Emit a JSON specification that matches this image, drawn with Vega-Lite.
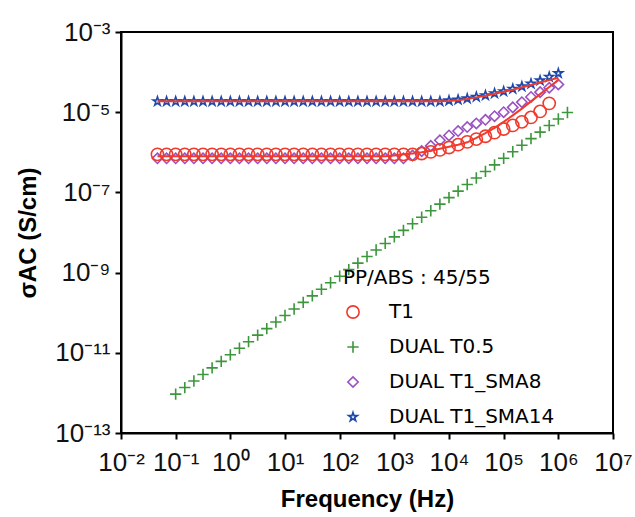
{
  "$schema": "https://vega.github.io/schema/vega-lite/v6.json",
  "width": 492,
  "height": 401,
  "autosize": {"type": "none"},
  "padding": {"left": 121, "top": 32, "right": 22, "bottom": 84},
  "background": "white",
  "config": {"view": {"stroke": "black", "strokeWidth": 2}, "font": "Liberation Sans"},
  "datasets": {
    "pts": [
      {"s": "DUAL T1_SMA8", "f": 0.04642, "y": 7.079e-7},
      {"s": "DUAL T1_SMA8", "f": 0.06813, "y": 7.079e-7},
      {"s": "DUAL T1_SMA8", "f": 0.1, "y": 7.079e-7},
      {"s": "DUAL T1_SMA8", "f": 0.1468, "y": 7.079e-7},
      {"s": "DUAL T1_SMA8", "f": 0.2154, "y": 7.079e-7},
      {"s": "DUAL T1_SMA8", "f": 0.3162, "y": 7.079e-7},
      {"s": "DUAL T1_SMA8", "f": 0.4642, "y": 7.079e-7},
      {"s": "DUAL T1_SMA8", "f": 0.6813, "y": 7.079e-7},
      {"s": "DUAL T1_SMA8", "f": 1, "y": 7.079e-7},
      {"s": "DUAL T1_SMA8", "f": 1.468, "y": 7.079e-7},
      {"s": "DUAL T1_SMA8", "f": 2.154, "y": 7.079e-7},
      {"s": "DUAL T1_SMA8", "f": 3.162, "y": 7.079e-7},
      {"s": "DUAL T1_SMA8", "f": 4.642, "y": 7.079e-7},
      {"s": "DUAL T1_SMA8", "f": 6.813, "y": 7.079e-7},
      {"s": "DUAL T1_SMA8", "f": 10, "y": 7.079e-7},
      {"s": "DUAL T1_SMA8", "f": 14.68, "y": 7.079e-7},
      {"s": "DUAL T1_SMA8", "f": 21.54, "y": 7.079e-7},
      {"s": "DUAL T1_SMA8", "f": 31.62, "y": 7.079e-7},
      {"s": "DUAL T1_SMA8", "f": 46.42, "y": 7.079e-7},
      {"s": "DUAL T1_SMA8", "f": 68.13, "y": 7.079e-7},
      {"s": "DUAL T1_SMA8", "f": 100, "y": 7.079e-7},
      {"s": "DUAL T1_SMA8", "f": 146.8, "y": 7.079e-7},
      {"s": "DUAL T1_SMA8", "f": 215.4, "y": 7.079e-7},
      {"s": "DUAL T1_SMA8", "f": 316.2, "y": 7.079e-7},
      {"s": "DUAL T1_SMA8", "f": 464.2, "y": 7.079e-7},
      {"s": "DUAL T1_SMA8", "f": 681.3, "y": 7.079e-7},
      {"s": "DUAL T1_SMA8", "f": 1000, "y": 7.079e-7},
      {"s": "DUAL T1_SMA8", "f": 1468, "y": 7.079e-7},
      {"s": "DUAL T1_SMA8", "f": 2154, "y": 8.318e-7},
      {"s": "DUAL T1_SMA8", "f": 3162, "y": 1.072e-6},
      {"s": "DUAL T1_SMA8", "f": 4642, "y": 1.445e-6},
      {"s": "DUAL T1_SMA8", "f": 6813, "y": 1.995e-6},
      {"s": "DUAL T1_SMA8", "f": 10000, "y": 2.630e-6},
      {"s": "DUAL T1_SMA8", "f": 14678, "y": 3.388e-6},
      {"s": "DUAL T1_SMA8", "f": 21544, "y": 4.266e-6},
      {"s": "DUAL T1_SMA8", "f": 31623, "y": 5.248e-6},
      {"s": "DUAL T1_SMA8", "f": 46416, "y": 6.457e-6},
      {"s": "DUAL T1_SMA8", "f": 68129, "y": 7.943e-6},
      {"s": "DUAL T1_SMA8", "f": 100000, "y": 1.0e-5},
      {"s": "DUAL T1_SMA8", "f": 146780, "y": 1.318e-5},
      {"s": "DUAL T1_SMA8", "f": 215440, "y": 1.778e-5},
      {"s": "DUAL T1_SMA8", "f": 316230, "y": 2.399e-5},
      {"s": "DUAL T1_SMA8", "f": 464160, "y": 3.162e-5},
      {"s": "DUAL T1_SMA8", "f": 681290, "y": 4.074e-5},
      {"s": "DUAL T1_SMA8", "f": 1000000, "y": 4.9e-5},

      {"s": "T1", "f": 0.04642, "y": 8.913e-7},
      {"s": "T1", "f": 0.06813, "y": 8.913e-7},
      {"s": "T1", "f": 0.1, "y": 8.913e-7},
      {"s": "T1", "f": 0.1468, "y": 8.913e-7},
      {"s": "T1", "f": 0.2154, "y": 8.913e-7},
      {"s": "T1", "f": 0.3162, "y": 8.913e-7},
      {"s": "T1", "f": 0.4642, "y": 8.913e-7},
      {"s": "T1", "f": 0.6813, "y": 8.913e-7},
      {"s": "T1", "f": 1, "y": 8.913e-7},
      {"s": "T1", "f": 1.468, "y": 8.913e-7},
      {"s": "T1", "f": 2.154, "y": 8.913e-7},
      {"s": "T1", "f": 3.162, "y": 8.913e-7},
      {"s": "T1", "f": 4.642, "y": 8.913e-7},
      {"s": "T1", "f": 6.813, "y": 8.913e-7},
      {"s": "T1", "f": 10, "y": 8.913e-7},
      {"s": "T1", "f": 14.68, "y": 8.913e-7},
      {"s": "T1", "f": 21.54, "y": 8.913e-7},
      {"s": "T1", "f": 31.62, "y": 8.913e-7},
      {"s": "T1", "f": 46.42, "y": 8.913e-7},
      {"s": "T1", "f": 68.13, "y": 8.913e-7},
      {"s": "T1", "f": 100, "y": 8.913e-7},
      {"s": "T1", "f": 146.8, "y": 8.913e-7},
      {"s": "T1", "f": 215.4, "y": 8.913e-7},
      {"s": "T1", "f": 316.2, "y": 8.913e-7},
      {"s": "T1", "f": 464.2, "y": 8.913e-7},
      {"s": "T1", "f": 681.3, "y": 8.913e-7},
      {"s": "T1", "f": 1000, "y": 8.913e-7},
      {"s": "T1", "f": 1468, "y": 8.913e-7},
      {"s": "T1", "f": 2154, "y": 8.913e-7},
      {"s": "T1", "f": 3162, "y": 9.333e-7},
      {"s": "T1", "f": 4642, "y": 1.023e-6},
      {"s": "T1", "f": 6813, "y": 1.148e-6},
      {"s": "T1", "f": 10000, "y": 1.318e-6},
      {"s": "T1", "f": 14678, "y": 1.549e-6},
      {"s": "T1", "f": 21544, "y": 1.820e-6},
      {"s": "T1", "f": 31623, "y": 2.138e-6},
      {"s": "T1", "f": 46416, "y": 2.512e-6},
      {"s": "T1", "f": 68129, "y": 3.090e-6},
      {"s": "T1", "f": 100000, "y": 3.802e-6},
      {"s": "T1", "f": 146780, "y": 4.677e-6},
      {"s": "T1", "f": 215440, "y": 5.754e-6},
      {"s": "T1", "f": 316230, "y": 7.413e-6},
      {"s": "T1", "f": 464160, "y": 1.047e-5},
      {"s": "T1", "f": 681290, "y": 1.660e-5},

      {"s": "DUAL T0.5", "f": 0.1, "y": 9.333e-13},
      {"s": "DUAL T0.5", "f": 0.1468, "y": 1.358e-12},
      {"s": "DUAL T0.5", "f": 0.2154, "y": 1.982e-12},
      {"s": "DUAL T0.5", "f": 0.3162, "y": 2.884e-12},
      {"s": "DUAL T0.5", "f": 0.4642, "y": 4.198e-12},
      {"s": "DUAL T0.5", "f": 0.6813, "y": 6.124e-12},
      {"s": "DUAL T0.5", "f": 1, "y": 8.913e-12},
      {"s": "DUAL T0.5", "f": 1.468, "y": 1.297e-11},
      {"s": "DUAL T0.5", "f": 2.154, "y": 1.892e-11},
      {"s": "DUAL T0.5", "f": 3.162, "y": 2.754e-11},
      {"s": "DUAL T0.5", "f": 4.642, "y": 4.009e-11},
      {"s": "DUAL T0.5", "f": 6.813, "y": 5.848e-11},
      {"s": "DUAL T0.5", "f": 10, "y": 8.511e-11},
      {"s": "DUAL T0.5", "f": 14.68, "y": 1.239e-10},
      {"s": "DUAL T0.5", "f": 21.54, "y": 1.807e-10},
      {"s": "DUAL T0.5", "f": 31.62, "y": 2.630e-10},
      {"s": "DUAL T0.5", "f": 46.42, "y": 3.828e-10},
      {"s": "DUAL T0.5", "f": 68.13, "y": 5.585e-10},
      {"s": "DUAL T0.5", "f": 100, "y": 8.128e-10},
      {"s": "DUAL T0.5", "f": 146.8, "y": 1.183e-9},
      {"s": "DUAL T0.5", "f": 215.4, "y": 1.726e-9},
      {"s": "DUAL T0.5", "f": 316.2, "y": 2.512e-9},
      {"s": "DUAL T0.5", "f": 464.2, "y": 3.656e-9},
      {"s": "DUAL T0.5", "f": 681.3, "y": 5.333e-9},
      {"s": "DUAL T0.5", "f": 1000, "y": 7.762e-9},
      {"s": "DUAL T0.5", "f": 1468, "y": 1.130e-8},
      {"s": "DUAL T0.5", "f": 2154, "y": 1.648e-8},
      {"s": "DUAL T0.5", "f": 3162, "y": 2.399e-8},
      {"s": "DUAL T0.5", "f": 4642, "y": 3.491e-8},
      {"s": "DUAL T0.5", "f": 6813, "y": 5.093e-8},
      {"s": "DUAL T0.5", "f": 10000, "y": 7.413e-8},
      {"s": "DUAL T0.5", "f": 14678, "y": 1.079e-7},
      {"s": "DUAL T0.5", "f": 21544, "y": 1.574e-7},
      {"s": "DUAL T0.5", "f": 31623, "y": 2.291e-7},
      {"s": "DUAL T0.5", "f": 46416, "y": 3.334e-7},
      {"s": "DUAL T0.5", "f": 68129, "y": 4.864e-7},
      {"s": "DUAL T0.5", "f": 100000, "y": 7.079e-7},
      {"s": "DUAL T0.5", "f": 146780, "y": 1.030e-6},
      {"s": "DUAL T0.5", "f": 215440, "y": 1.503e-6},
      {"s": "DUAL T0.5", "f": 316230, "y": 2.188e-6},
      {"s": "DUAL T0.5", "f": 464160, "y": 3.184e-6},
      {"s": "DUAL T0.5", "f": 681290, "y": 4.645e-6},
      {"s": "DUAL T0.5", "f": 1000000, "y": 6.761e-6},
      {"s": "DUAL T0.5", "f": 1467800, "y": 9.840e-6},

      {"s": "DUAL T1_SMA14", "f": 0.04642, "y": 1.862e-5},
      {"s": "DUAL T1_SMA14", "f": 0.06813, "y": 1.862e-5},
      {"s": "DUAL T1_SMA14", "f": 0.1, "y": 1.862e-5},
      {"s": "DUAL T1_SMA14", "f": 0.1468, "y": 1.862e-5},
      {"s": "DUAL T1_SMA14", "f": 0.2154, "y": 1.862e-5},
      {"s": "DUAL T1_SMA14", "f": 0.3162, "y": 1.862e-5},
      {"s": "DUAL T1_SMA14", "f": 0.4642, "y": 1.862e-5},
      {"s": "DUAL T1_SMA14", "f": 0.6813, "y": 1.862e-5},
      {"s": "DUAL T1_SMA14", "f": 1, "y": 1.862e-5},
      {"s": "DUAL T1_SMA14", "f": 1.468, "y": 1.862e-5},
      {"s": "DUAL T1_SMA14", "f": 2.154, "y": 1.862e-5},
      {"s": "DUAL T1_SMA14", "f": 3.162, "y": 1.862e-5},
      {"s": "DUAL T1_SMA14", "f": 4.642, "y": 1.862e-5},
      {"s": "DUAL T1_SMA14", "f": 6.813, "y": 1.862e-5},
      {"s": "DUAL T1_SMA14", "f": 10, "y": 1.862e-5},
      {"s": "DUAL T1_SMA14", "f": 14.68, "y": 1.862e-5},
      {"s": "DUAL T1_SMA14", "f": 21.54, "y": 1.862e-5},
      {"s": "DUAL T1_SMA14", "f": 31.62, "y": 1.862e-5},
      {"s": "DUAL T1_SMA14", "f": 46.42, "y": 1.862e-5},
      {"s": "DUAL T1_SMA14", "f": 68.13, "y": 1.862e-5},
      {"s": "DUAL T1_SMA14", "f": 100, "y": 1.862e-5},
      {"s": "DUAL T1_SMA14", "f": 146.8, "y": 1.862e-5},
      {"s": "DUAL T1_SMA14", "f": 215.4, "y": 1.862e-5},
      {"s": "DUAL T1_SMA14", "f": 316.2, "y": 1.862e-5},
      {"s": "DUAL T1_SMA14", "f": 464.2, "y": 1.862e-5},
      {"s": "DUAL T1_SMA14", "f": 681.3, "y": 1.862e-5},
      {"s": "DUAL T1_SMA14", "f": 1000, "y": 1.862e-5},
      {"s": "DUAL T1_SMA14", "f": 1468, "y": 1.862e-5},
      {"s": "DUAL T1_SMA14", "f": 2154, "y": 1.862e-5},
      {"s": "DUAL T1_SMA14", "f": 3162, "y": 1.862e-5},
      {"s": "DUAL T1_SMA14", "f": 4642, "y": 1.862e-5},
      {"s": "DUAL T1_SMA14", "f": 6813, "y": 1.862e-5},
      {"s": "DUAL T1_SMA14", "f": 10000, "y": 1.950e-5},
      {"s": "DUAL T1_SMA14", "f": 14678, "y": 2.042e-5},
      {"s": "DUAL T1_SMA14", "f": 21544, "y": 2.188e-5},
      {"s": "DUAL T1_SMA14", "f": 31623, "y": 2.399e-5},
      {"s": "DUAL T1_SMA14", "f": 46416, "y": 2.630e-5},
      {"s": "DUAL T1_SMA14", "f": 68129, "y": 2.951e-5},
      {"s": "DUAL T1_SMA14", "f": 100000, "y": 3.311e-5},
      {"s": "DUAL T1_SMA14", "f": 146780, "y": 3.802e-5},
      {"s": "DUAL T1_SMA14", "f": 215440, "y": 4.365e-5},
      {"s": "DUAL T1_SMA14", "f": 316230, "y": 5.129e-5},
      {"s": "DUAL T1_SMA14", "f": 464160, "y": 6.166e-5},
      {"s": "DUAL T1_SMA14", "f": 681290, "y": 7.586e-5},
      {"s": "DUAL T1_SMA14", "f": 1000000, "y": 9.333e-5}
    ],
    "fits": [
      {"fit": "A", "f": 0.04642, "y": 1.862e-5},
      {"fit": "A", "f": 6813, "y": 1.862e-5},
      {"fit": "A", "f": 10000, "y": 1.905e-5},
      {"fit": "A", "f": 14678, "y": 1.995e-5},
      {"fit": "A", "f": 21544, "y": 2.138e-5},
      {"fit": "A", "f": 31623, "y": 2.344e-5},
      {"fit": "A", "f": 46416, "y": 2.570e-5},
      {"fit": "A", "f": 68129, "y": 2.884e-5},
      {"fit": "A", "f": 100000, "y": 3.236e-5},
      {"fit": "A", "f": 146780, "y": 3.631e-5},
      {"fit": "A", "f": 215440, "y": 4.169e-5},
      {"fit": "A", "f": 316230, "y": 4.786e-5},
      {"fit": "A", "f": 464160, "y": 5.495e-5},
      {"fit": "A", "f": 681290, "y": 6.310e-5},
      {"fit": "A", "f": 1000000, "y": 7.244e-5},
      {"fit": "B", "f": 0.04642, "y": 7.943e-7},
      {"fit": "B", "f": 681.3, "y": 7.943e-7},
      {"fit": "B", "f": 1000, "y": 8.318e-7},
      {"fit": "B", "f": 1468, "y": 8.913e-7},
      {"fit": "B", "f": 2154, "y": 9.333e-7},
      {"fit": "B", "f": 3162, "y": 1.0e-6},
      {"fit": "B", "f": 4642, "y": 1.096e-6},
      {"fit": "B", "f": 6813, "y": 1.230e-6},
      {"fit": "B", "f": 10000, "y": 1.380e-6},
      {"fit": "B", "f": 14678, "y": 1.549e-6},
      {"fit": "B", "f": 21544, "y": 1.778e-6},
      {"fit": "B", "f": 31623, "y": 2.291e-6},
      {"fit": "B", "f": 46416, "y": 3.020e-6},
      {"fit": "B", "f": 68129, "y": 4.074e-6},
      {"fit": "B", "f": 100000, "y": 5.754e-6},
      {"fit": "B", "f": 146780, "y": 8.318e-6},
      {"fit": "B", "f": 215440, "y": 1.230e-5},
      {"fit": "B", "f": 316230, "y": 1.862e-5},
      {"fit": "B", "f": 464160, "y": 2.818e-5},
      {"fit": "B", "f": 681290, "y": 4.266e-5},
      {"fit": "B", "f": 1000000, "y": 6.310e-5}
    ]
  },
  "layer": [
    {
      "data": {"name": "pts"},
      "mark": {"type": "point", "filled": false, "strokeWidth": 1.6, "opacity": 1},
      "encoding": {
        "x": {
          "field": "f", "type": "quantitative",
          "scale": {"type": "log", "domain": [0.01, 10000000]},
          "axis": {
            "values": [0.01, 0.1, 1, 10, 100, 1000, 10000, 100000, 1000000, 10000000],
            "labelExpr": "'10' + (datum.value < 1 ? '⁻' : '') + ['⁰','¹','²','³','⁴','⁵','⁶','⁷','⁸','⁹','¹⁰','¹¹','¹²','¹³'][abs(round(log(datum.value)/LN10))]",
            "labelFont": "Liberation Sans", "labelFontSize": 26, "labelColor": "#111",
            "labelPadding": 10, "labelOverlap": false, "labelFlush": false,
            "tickColor": "black", "tickWidth": 2, "tickSize": 6,
            "domainColor": "black", "domainWidth": 2, "grid": false,
            "title": "Frequency (Hz)", "titleFont": "Liberation Sans", "titleFontSize": 24,
            "titleFontWeight": "bold", "titleColor": "black", "titlePadding": 12
          }
        },
        "y": {
          "field": "y", "type": "quantitative",
          "scale": {"type": "log", "domain": [1e-13, 0.001]},
          "axis": {
            "values": [1e-13, 1e-11, 1e-9, 1e-7, 1e-5, 0.001],
            "labelExpr": "'10' + (datum.value < 1 ? '⁻' : '') + ['⁰','¹','²','³','⁴','⁵','⁶','⁷','⁸','⁹','¹⁰','¹¹','¹²','¹³'][abs(round(log(datum.value)/LN10))]",
            "labelFont": "Liberation Sans", "labelFontSize": 26, "labelColor": "#111",
            "labelPadding": 5, "labelOverlap": false, "labelFlush": false,
            "tickColor": "black", "tickWidth": 2, "tickSize": 6,
            "domainColor": "black", "domainWidth": 2, "grid": false,
            "title": "σAC (S/cm)", "titleFont": "Liberation Sans", "titleFontSize": 24,
            "titleFontWeight": "bold", "titleColor": "black", "titlePadding": 14
          }
        },
        "color": {
          "field": "s", "type": "nominal",
          "scale": {
            "domain": ["T1", "DUAL T0.5", "DUAL T1_SMA8", "DUAL T1_SMA14"],
            "range": ["#f03a2c", "#3c963c", "#9a4fc2", "#1f48ac"]
          },
          "legend": {
            "orient": "none", "legendX": 222, "legendY": 236,
            "title": "PP/ABS : 45/55", "titleFont": "DejaVu Sans", "titleFontSize": 20,
            "titleFontWeight": "normal", "titleColor": "black", "titlePadding": 14,
            "titleLimit": 400,
            "labelFont": "DejaVu Sans", "labelFontSize": 20, "labelColor": "black",
            "labelLimit": 400,
            "labelOffset": 26, "rowPadding": 15, "symbolSize": 120, "symbolStrokeWidth": 1.6,
            "padding": 0
          }
        },
        "shape": {
          "field": "s", "type": "nominal",
          "scale": {
            "domain": ["T1", "DUAL T0.5", "DUAL T1_SMA8", "DUAL T1_SMA14"],
            "range": [
              "circle",
              "M-1,0L1,0M0,-1L0,1",
              "diamond",
              "M0,-1L0.2245,-0.309L0.9511,-0.309L0.3633,0.118L0.5878,0.809L0,0.382L-0.5878,0.809L-0.3633,0.118L-0.9511,-0.309L-0.2245,-0.309Z"
            ]
          }
        },
        "size": {
          "field": "s", "type": "nominal", "legend": null,
          "scale": {
            "domain": ["T1", "DUAL T0.5", "DUAL T1_SMA8", "DUAL T1_SMA14"],
            "range": [150, 85, 170, 150]
          }
        }
      }
    },
    {
      "data": {"name": "fits"},
      "mark": {"type": "line", "color": "#f03a2c", "strokeWidth": 2},
      "encoding": {
        "x": {"field": "f", "type": "quantitative"},
        "y": {"field": "y", "type": "quantitative"},
        "detail": {"field": "fit"}
      }
    }
  ]
}
